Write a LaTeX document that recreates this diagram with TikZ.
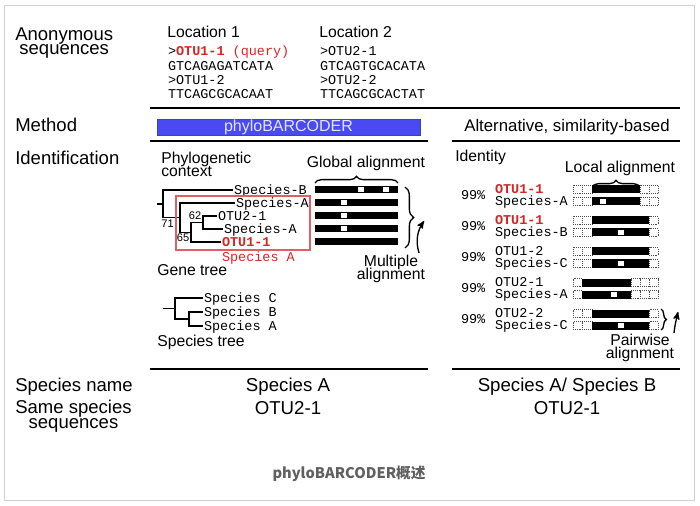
\documentclass[tikz,border=0pt]{standalone}
\usepackage{fontspec}
\setmainfont{Liberation Sans}
\setmonofont{Liberation Mono}
\newfontfamily\capfont{Noto Sans CJK SC}
\usetikzlibrary{positioning,arrows,decorations.pathreplacing}
\definecolor{otured}{RGB}{214,36,36}
\definecolor{boxred}{RGB}{222,96,96}
\definecolor{phyloblue}{RGB}{74,74,242}
\definecolor{capgray}{RGB}{96,96,96}
\setlength{\lineskiplimit}{-20pt}
\tikzset{
>=stealth',
  rowlabel/.style={
    font=\fontsize{13.9}{11.2}\selectfont,
    align=center,
    inner sep=0pt},
  heading/.style={
    font=\fontsize{11.8}{9.6}\selectfont,
    align=center,
    inner sep=0pt},
  valuelabel/.style={
    font=\fontsize{14}{14}\selectfont,
    inner sep=0pt},
  seq/.style={
    font=\ttfamily\fontsize{10.1}{10.1}\selectfont,
    inner xsep=0.6pt, inner ysep=0pt,
    text height=6.6pt, text depth=0pt,
    anchor=west},
  query/.style={seq, text=otured,
    font=\ttfamily\bfseries\fontsize{10.1}{10.1}\selectfont},
  support/.style={font=\fontsize{8.3}{8.3}\selectfont, inner sep=0pt},
  methodbox/.style={
    fill=phyloblue, draw=phyloblue!85!black, line width=0.4pt,
    text=white!85!phyloblue,
    font=\fontsize{12}{12}\selectfont,
    minimum width=197pt, minimum height=12pt, inner sep=0pt},
  rule/.style={line width=2.2pt},
  branch/.style={line width=1.1pt},
  redbox/.style={draw=boxred, line width=0.8pt},
  curly/.style={decorate, decoration={brace, amplitude=5pt}, line width=1pt},
  gapcell/.style={fill=white, draw=black!70, densely dotted, line width=0.45pt},
  arr/.style={->, line width=1pt},
  outerframe/.style={draw=black!18, line width=0.7pt},
}
\begin{document}
\lineskiplimit=-20pt
\begin{tikzpicture}[x=0.75pt, y=-0.75pt]
\useasboundingbox (0,0) rectangle (700,506);
\draw[outerframe] (4,5) rectangle (694,500);

% row names
\node[rowlabel, anchor=north west] (anon) at (15,27) {Anonymous\\sequences};
\node[rowlabel, anchor=base west] (meth) at (15,132) {Method};
\node[rowlabel, anchor=base west] (ident) at (15,165) {Identification};
\node[rowlabel, anchor=base west] (spname) at (15,391) {Species name};
\node[rowlabel, anchor=north west] (same) at (15,400) {Same species\\sequences};

% anonymous sequences
\node[heading, anchor=base west] (loc1) at (167,38) {Location 1};
\node[heading, anchor=base west] (loc2) at (319,38) {Location 2};
\node[seq, anchor=base west] (s11) at (167,56) {>\textcolor{otured}{\textbf{OTU1-1} (query)}};
\node[seq, anchor=base west] (s12) at (167,70.3) {GTCAGAGATCATA};
\node[seq, anchor=base west] (s13) at (167,84.6) {>OTU1-2};
\node[seq, anchor=base west] (s14) at (167,99) {TTCAGCGCACAAT};
\node[seq, anchor=base west] (s21) at (319,56) {>OTU2-1};
\node[seq, anchor=base west] (s22) at (319,70.3) {GTCAGTGCACATA};
\node[seq, anchor=base west] (s23) at (319,84.6) {>OTU2-2};
\node[seq, anchor=base west] (s24) at (319,99) {TTCAGCGCACTAT};
\draw[rule] (150,108) -- (680,108);

% method
\node[methodbox] (phylo) at (288.5,127) {phyloBARCODER};
\node[heading, font=\fontsize{12.6}{12.6}\selectfont, anchor=base] (alt) at (567,132) {Alternative, similarity-based};
\draw[rule] (150,141) -- (428,141);
\draw[rule] (452,141) -- (680,141);

% phylogenetic side
\node[heading, anchor=north west, align=left] (phyctx) at (161,152) {Phylogenetic\\context};
\node[heading, anchor=base] (glob) at (366,168) {Global alignment};

% gene tree
\coordinate (gstub) at (157,203.8);
\coordinate (groot) at (163,203.8);
\coordinate (g71) at (180,217.6);
\coordinate (g65) at (191,232.3);
\coordinate (g62) at (203,222.5);
\node[seq] (gB) at (233,190) {Species-B};
\node[seq] (gA1) at (235,203) {Species-A};
\node[seq] (gO21) at (217,216) {OTU2-1};
\node[seq] (gA2) at (223,229) {Species-A};
\node[query] (gO11) at (221,242) {OTU1-1};
\draw[branch] (gstub) -- (groot);
\draw[branch] (gB.west) -| (groot) |- (g71);
\draw[branch] (gA1.west) -| (g71) |- (g65);
\draw[branch] (g62) -| (g65) |- (gO11.west);
\draw[branch] (gO21.west) -| (g62) |- (gA2.west);
\node[support, anchor=north east] (s71) at (174,220) {71};
\node[support, anchor=east] (s62) at (201.5,215.5) {62};
\node[support, anchor=east] (s65) at (189.5,238) {65};
\draw[redbox] (176,196) rectangle (310,250);
\node[seq, text=otured] (gsp) at (221,257) {Species A};
\node[heading, anchor=base west] (gtree) at (157,276) {Gene tree};

% multiple alignment
\foreach \y in {190,203,216,229,242}
  \fill (315,\y-3.5) rectangle (398,\y+3.5);
\foreach \s/\y in {358/190,383/190,341/203,341/216,341/229}
  \fill[white] (\s,\y-2.5) rectangle ++(6,5);
\draw[curly] (315,183) -- (398,183);
\draw[curly, decoration={amplitude=6.5pt}] (405,187) -- (405,248);
\node[heading, anchor=north] (multi) at (391,255) {Multiple\\alignment};
\coordinate (mtail) at (419,253);
\coordinate (mhead) at (424,221);
\draw[arr] (mtail) .. controls (415,240) and (418,230) .. (mhead);

% species tree
\coordinate (tstub) at (163,308.5);
\coordinate (troot) at (175,308.5);
\coordinate (tab) at (189,319);
\node[seq] (tC) at (203,298) {Species C};
\node[seq] (tB) at (203,312) {Species B};
\node[seq] (tA) at (203,326) {Species A};
\draw[branch] (tstub) -- (troot);
\draw[branch] (tC.west) -| (troot) |- (tab);
\draw[branch] (tB.west) -| (tab) |- (tA.west);
\node[heading, anchor=base west] (stree) at (157,346) {Species tree};

% similarity side
\node[heading, anchor=base west] (ident2) at (455,162) {Identity};
\node[heading, anchor=base] (loc) at (620,173) {Local alignment};
\draw[curly] (592,187) -- (640,187);
\foreach \i/\y/\st/\ta/\tb in {1/189.5/query/OTU1-1/Species-A,
    2/220.5/query/OTU1-1/Species-B, 3/251.5/seq/OTU1-2/Species-C,
    4/282.5/seq/OTU2-1/Species-A, 5/313.5/seq/OTU2-2/Species-C} {
  \node[\st] (p\i a) at (494,\y) {\ta};
  \node[seq] (p\i b) at (494,\y+12) {\tb};
  \node[seq] (p\i id) at (460,\y+6) {99\%};
}
\foreach \y/\bs/\be in {189.5/592/640, 201.5/592/640, 220.5/592/649,
    232.5/592/649, 251.5/592/649, 263.5/592/649, 282.5/582/631,
    294.5/582/631, 313.5/592/649, 325.5/592/649} {
  \draw[gapcell] (573,\y-4) rectangle (\bs,\y+4);
  \draw[gapcell] (\be,\y-4) rectangle (658,\y+4);
  \fill (\bs,\y-4) rectangle (\be,\y+4);
}
\foreach \x/\y in {582.5/189.5, 582.5/201.5, 649/189.5, 649/201.5,
    582.5/220.5, 582.5/232.5, 582.5/251.5, 582.5/263.5,
    640/282.5, 649/282.5, 640/294.5, 649/294.5, 582.5/313.5, 582.5/325.5}
  \draw[gapcell] (\x,\y-4) -- (\x,\y+4);
\foreach \x/\y in {600/201.5, 618/232.5, 618/263.5, 611/294.5, 618/325.5}
  \fill[white] (\x,\y-2.5) rectangle ++(6,5);
\draw[curly, decoration={amplitude=4pt}] (661,309) -- (661,330);
\node[heading, anchor=north] (pair) at (640,334) {Pairwise\\alignment};
\coordinate (ptail) at (674,333);
\coordinate (phead) at (678,312);
\draw[arr] (ptail) .. controls (675,325) .. (phead);

% results
\draw[rule] (150,369) -- (428,369);
\draw[rule] (452,369) -- (680,369);
\node[valuelabel, anchor=base] (resA) at (288,391) {Species A};
\node[valuelabel, anchor=base] (resB) at (567,391) {Species A/ Species B};
\node[valuelabel, anchor=base] (sameA) at (288,414) {OTU2-1};
\node[valuelabel, anchor=base] (sameB) at (567,414) {OTU2-1};

\node[font=\capfont\bfseries\fontsize{11}{11}\selectfont, text=capgray, inner sep=0pt] (caption) at (349,474) {phyloBARCODER概述};
\end{tikzpicture}
\end{document}
